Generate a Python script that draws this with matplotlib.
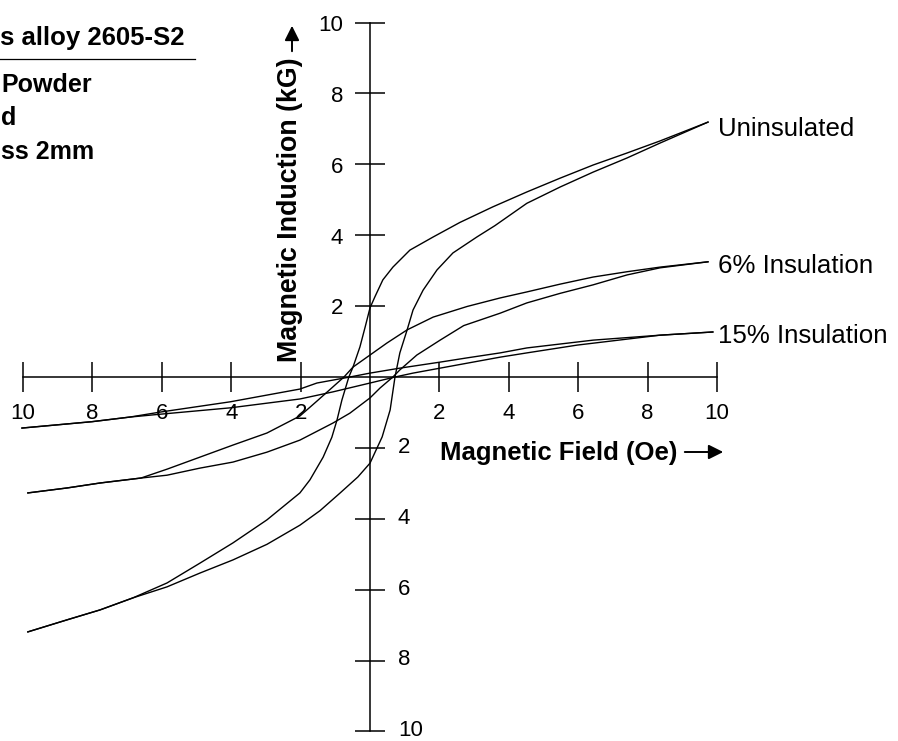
import matplotlib.pyplot as plt

plt.rcParams['font.family'] = ['Liberation Sans', 'DejaVu Sans']

# B-H loops, field H in Oe, induction B in kG
# descending branch runs from +H to -H, ascending from -H to +H
unins_down_h = [9.74, 8.36, 7.41, 6.43, 5.48, 4.52, 3.54, 2.59, 1.82, 1.15, 0.66, 0.37, 0.14, 0.0,
                -0.14, -0.29, -0.49, -0.61, -0.81, -0.95, -1.1, -1.35, -1.73, -2.02, -2.97, -3.95,
                -4.9, -5.85, -6.83, -7.78, -8.73, -9.86]
unins_down_b = [7.19, 6.66, 6.32, 5.98, 5.61, 5.22, 4.80, 4.36, 3.95, 3.58, 3.10, 2.74, 2.26, 1.95,
                1.41, 0.85, 0.28, 0.0, -0.65, -1.21, -1.70, -2.26, -2.90, -3.27, -4.03, -4.68,
                -5.25, -5.81, -6.23, -6.57, -6.85, -7.19]
unins_up_h = [-9.86, -8.73, -7.78, -6.83, -5.85, -4.9, -3.95, -2.97, -2.02, -1.44, -0.86, -0.35, 0.0,
              0.35, 0.58, 0.72, 0.86, 1.07, 1.24, 1.53, 1.93, 2.39, 3.08, 3.6, 4.52, 5.48, 6.43,
              7.41, 8.36, 9.74]
unins_up_b = [-7.19, -6.85, -6.57, -6.23, -5.92, -5.53, -5.16, -4.72, -4.18, -3.77, -3.27, -2.82, -2.43,
              -1.69, -0.93, 0.0, 0.68, 1.33, 1.89, 2.45, 3.02, 3.50, 3.95, 4.27, 4.90, 5.36, 5.78,
              6.18, 6.60, 7.19]

ins6_down_h = [9.74, 8.36, 7.41, 6.43, 5.48, 4.52, 3.75, 2.8, 1.82, 1.07, 0.49, 0.0, -0.49, -0.75,
               -1.07, -1.53, -2.02, -2.97, -3.95, -4.9, -5.85, -6.6, -7.78, -8.73, -9.86]
ins6_down_b = [3.25, 3.10, 2.97, 2.82, 2.62, 2.40, 2.23, 1.99, 1.69, 1.33, 0.96, 0.62, 0.28, 0.0,
               -0.28, -0.68, -1.1, -1.58, -1.92, -2.26, -2.6, -2.85, -2.99, -3.13, -3.27]
ins6_up_h = [-9.86, -8.73, -7.78, -6.6, -5.85, -4.9, -3.95, -2.97, -2.02, -1.07, -0.58, 0.0, 0.29,
             0.66, 0.86, 1.35, 2.02, 2.7, 3.75, 4.52, 5.48, 6.43, 7.41, 8.36, 9.74]
ins6_up_b = [-3.27, -3.13, -2.99, -2.85, -2.77, -2.57, -2.4, -2.12, -1.78, -1.3, -1.02, -0.59, -0.31,
             0.0, 0.2, 0.62, 1.04, 1.45, 1.8, 2.09, 2.36, 2.6, 2.88, 3.08, 3.25]

ins15_down_h = [9.88, 8.36, 6.43, 4.52, 3.75, 2.8, 2.02, 0.86, 0.0, -0.58, -1.53, -2.02, -4.03,
                -6.05, -6.92, -8.01, -10.03]
ins15_down_b = [1.27, 1.18, 1.04, 0.82, 0.68, 0.54, 0.42, 0.25, 0.11, 0.0, -0.17, -0.34, -0.7,
                -0.99, -1.13, -1.26, -1.44]
ins15_up_h = [-10.03, -8.01, -6.92, -6.05, -4.03, -2.02, -1.07, 0.0, 0.72, 1.24, 2.02, 2.8, 3.75,
              4.52, 5.97, 8.36, 9.88]
ins15_up_b = [-1.44, -1.26, -1.13, -1.05, -0.87, -0.62, -0.42, -0.17, 0.0, 0.11, 0.25, 0.39, 0.56,
              0.68, 0.9, 1.18, 1.27]

loop_names = ['Uninsulated', '6% Insulation', '15% Insulation']
ticks = [-10, -8, -6, -4, -2, 2, 4, 6, 8, 10]

fig = plt.figure(figsize=(8.98, 7.41), dpi=100)
ax = fig.add_axes([0, 0, 1, 1])
ax.set_xlim(-10.663, 15.216)
ax.set_ylim(-10.268, 10.635)

# axes crossing at the origin
for side in ['top', 'right']:
    ax.spines[side].set_visible(False)
for side in ['left', 'bottom']:
    ax.spines[side].set_position('zero')
    ax.spines[side].set_bounds(-10, 10)
    ax.spines[side].set_linewidth(1.1)
ax.set_xticks(ticks)
ax.set_yticks(ticks)
ax.set_xticklabels([])
ax.set_yticklabels([])
ax.tick_params(direction='inout', length=21, width=1.1)

for v in ticks:
    ax.annotate(str(abs(v)), xy=(v, 0), xytext=(0, -30), textcoords='offset points',
                ha='center', va='baseline', fontsize=16)
    if v > 0:
        ax.annotate(str(v), xy=(0, v), xytext=(-19.5, -6), textcoords='offset points',
                    ha='right', va='baseline', fontsize=16)
    else:
        ax.annotate(str(-v), xy=(0, v), xytext=(20, -3.5), textcoords='offset points',
                    ha='left', va='baseline', fontsize=16)

loops = [(unins_down_h, unins_down_b, unins_up_h, unins_up_b),
         (ins6_down_h, ins6_down_b, ins6_up_h, ins6_up_b),
         (ins15_down_h, ins15_down_b, ins15_up_h, ins15_up_b)]
label_offsets = [(7.2, -10), (7.2, -8), (3.6, -8)]

for (dh, db, uh, ub), name, off in zip(loops, loop_names, label_offsets):
    ax.plot(dh, db, color='black', lw=1.0)
    ax.plot(uh, ub, color='black', lw=1.0)
    ax.annotate(name, xy=(uh[-1], ub[-1]), xytext=off, textcoords='offset points',
                ha='left', va='baseline', fontsize=18.6)

W, H = 898, 741

# axis titles with arrows
fig.text(440 / W, 1 - 460 / H, 'Magnetic Field (Oe)', fontsize=18.5, fontweight='bold',
         ha='left', va='baseline')
ax.annotate('', xy=(726, H - 452), xytext=(682, H - 452), xycoords='figure pixels',
            arrowprops=dict(arrowstyle='-|>', lw=1.4, color='black', mutation_scale=22))
fig.text(297 / W, 1 - 362 / H, 'Magnetic Induction (kG)', fontsize=19.3, fontweight='bold',
         rotation=90, rotation_mode='anchor', ha='left', va='baseline')
ax.annotate('', xy=(292, H - 23), xytext=(292, H - 54), xycoords='figure pixels',
            arrowprops=dict(arrowstyle='-|>', lw=1.4, color='black', mutation_scale=22))

# sample description, top left
fig.text(184 / W, 1 - 45 / H, 's alloy 2605-S2', fontsize=18.5, fontweight='bold',
         ha='right', va='baseline')
ax.plot([0, 195], [H - 59, H - 59], color='black', lw=0.9, transform=None)
for txt, base in [('Powder', 92), ('d', 125), ('ss 2mm', 159)]:
    fig.text(1 / W, 1 - base / H, txt, fontsize=18, fontweight='bold',
             ha='left', va='baseline')

fig.savefig('out.png', dpi=100)
